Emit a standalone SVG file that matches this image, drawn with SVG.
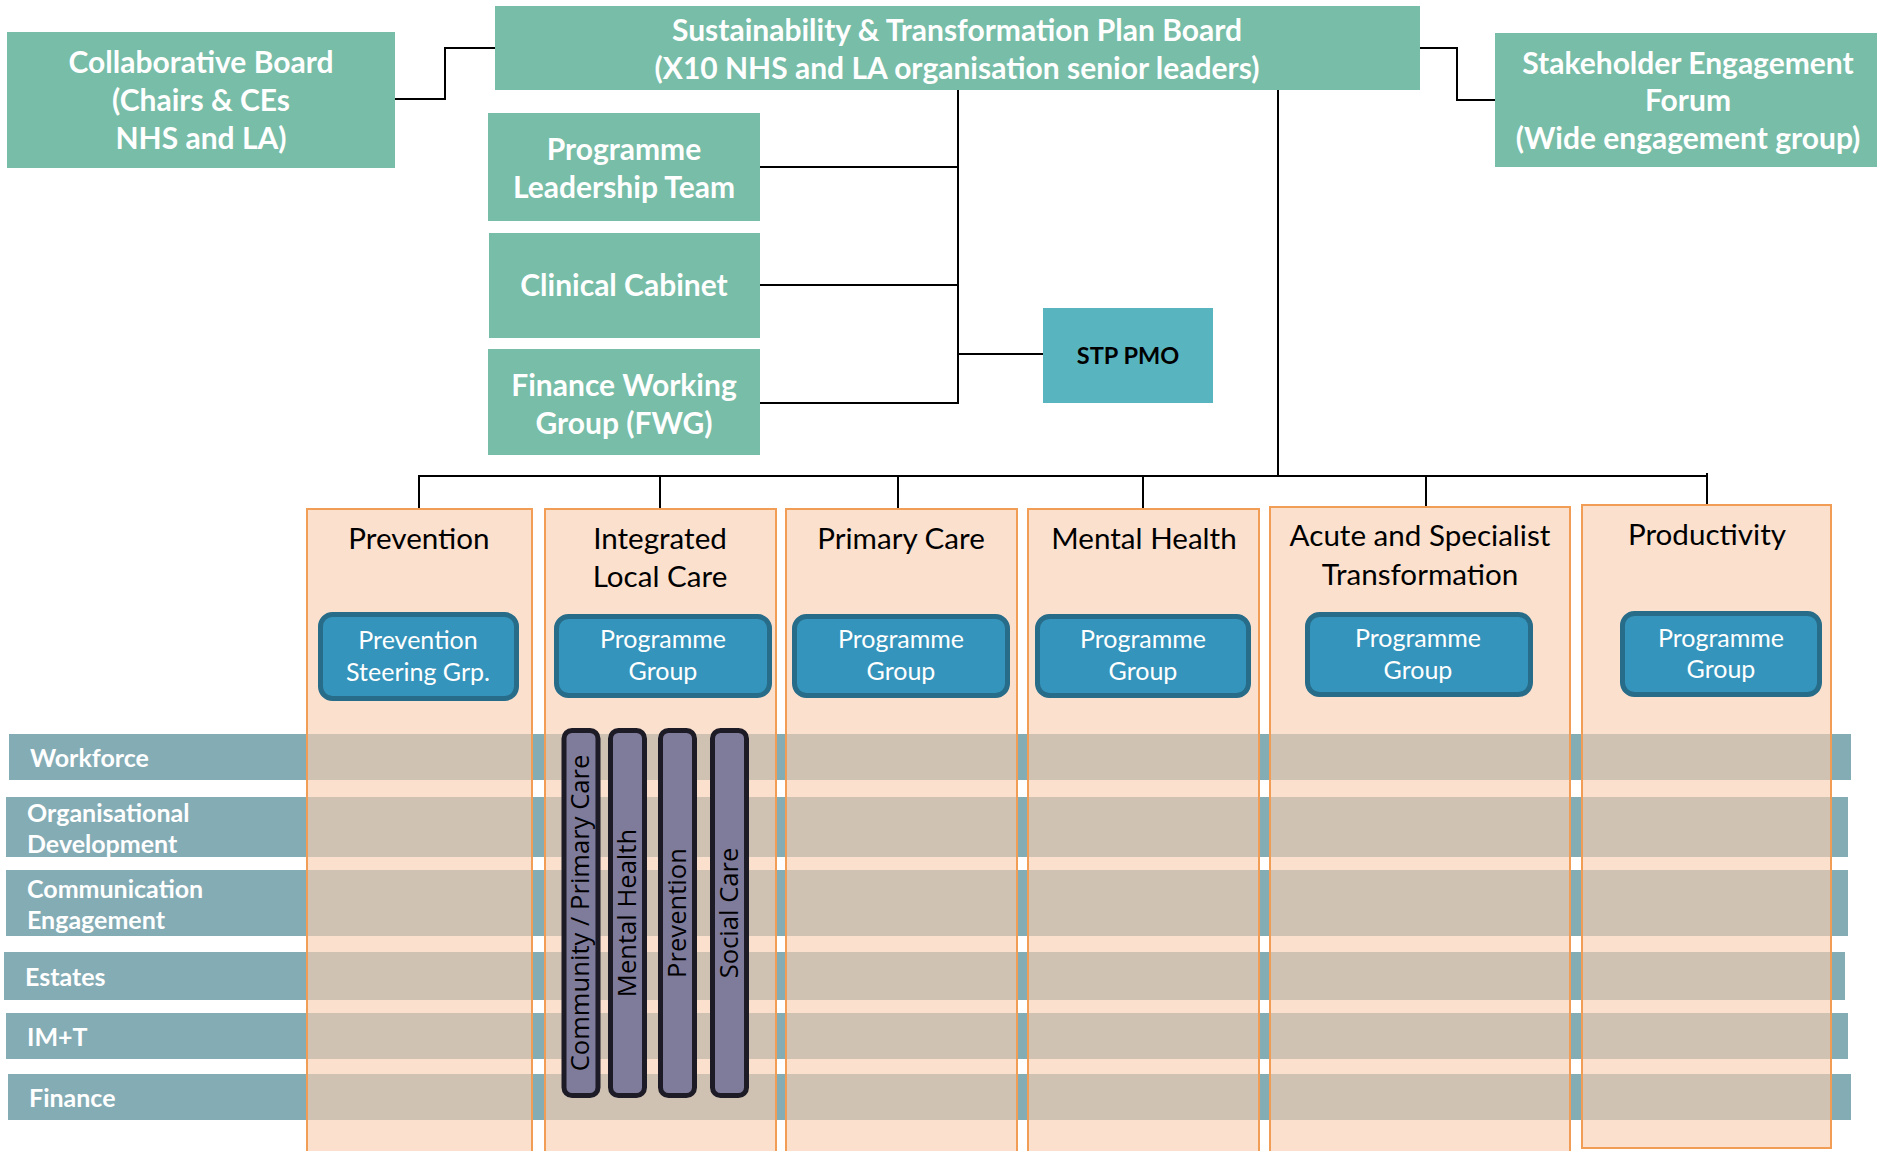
<svg xmlns="http://www.w3.org/2000/svg" width="1877" height="1151" viewBox="0 0 1877 1151">
<style>
.g{fill:#77BDA7}
.wt{font-family:Lato,"Liberation Sans",sans-serif;font-weight:bold;fill:#fff;text-anchor:middle;font-size:30px}
.band{fill:#84ACB5}
.bt{font-family:Lato,"Liberation Sans",sans-serif;font-weight:bold;fill:#fff;font-size:25px}
.col{fill:#FACFB3;fill-opacity:0.64;stroke:#F29D55;stroke-width:2}
.ct{font-family:Lato,"Liberation Sans",sans-serif;fill:#000;text-anchor:middle;font-size:29.6px}
.pg{fill:#3594BB;stroke:#276C89;stroke-width:5}
.pt{font-family:Lato,"Liberation Sans",sans-serif;fill:#fff;text-anchor:middle;font-size:25px}
.bar{fill:#7F7B9B;stroke:#1D1B26;stroke-width:5}
.vt{font-family:"Open Sans","Noto Sans",sans-serif;fill:#000;text-anchor:middle;font-size:25.6px}
.ln{fill:none;stroke:#000;stroke-width:2}
</style>
<g id="bands">
<g id="band-workforce"><rect class="band" x="9" y="734" width="1842" height="46"/><text class="bt" x="30" y="767">Workforce</text></g>
<g id="band-orgdev"><rect class="band" x="6" y="797" width="1842" height="60"/><text class="bt" x="27" y="822">Organisational</text><text class="bt" x="27" y="853">Development</text></g>
<g id="band-comm"><rect class="band" x="6" y="870" width="1842" height="66"/><text class="bt" x="27" y="898">Communication</text><text class="bt" x="27" y="929">Engagement</text></g>
<g id="band-estates"><rect class="band" x="4" y="952" width="1841" height="48"/><text class="bt" x="25" y="986">Estates</text></g>
<g id="band-imt"><rect class="band" x="6" y="1013" width="1842" height="46"/><text class="bt" x="27" y="1046">IM+T</text></g>
<g id="band-finance"><rect class="band" x="8" y="1074" width="1843" height="46"/><text class="bt" x="29" y="1107">Finance</text></g>
</g>
<g id="connectors">
<polyline class="ln" points="395,99 445,99 445,48 495,48"/>
<polyline class="ln" points="1420,48 1457,48 1457,100 1495,100"/>
<line class="ln" x1="958" y1="90" x2="958" y2="404"/>
<line class="ln" x1="760" y1="167" x2="958" y2="167"/>
<line class="ln" x1="760" y1="285" x2="958" y2="285"/>
<line class="ln" x1="760" y1="403" x2="958" y2="403"/>
<line class="ln" x1="958" y1="354" x2="1043" y2="354"/>
<line class="ln" x1="1278" y1="90" x2="1278" y2="476"/>
<line class="ln" x1="418" y1="476" x2="1708" y2="476"/>
<line class="ln" x1="419" y1="476" x2="419" y2="509"/>
<line class="ln" x1="660" y1="476" x2="660" y2="509"/>
<line class="ln" x1="898" y1="476" x2="898" y2="509"/>
<line class="ln" x1="1143" y1="476" x2="1143" y2="509"/>
<line class="ln" x1="1426" y1="476" x2="1426" y2="507"/>
<line class="ln" x1="1707" y1="473" x2="1707" y2="505"/>
</g>
<g id="collaborative-board"><rect class="g" x="7" y="32" width="388" height="136"/><text class="wt" x="201" y="73">Collaborative Board</text><text class="wt" x="201" y="111">(Chairs &amp; CEs</text><text class="wt" x="201" y="149">NHS and LA)</text></g>
<g id="stp-board"><rect class="g" x="495" y="6" width="925" height="84"/><text class="wt" x="957" y="41">Sustainability &amp; Transformation Plan Board</text><text class="wt" x="957" y="79">(X10 NHS and LA organisation senior leaders)</text></g>
<g id="stakeholder-forum"><rect class="g" x="1495" y="33" width="382" height="134"/><text class="wt" x="1688" y="74">Stakeholder Engagement</text><text class="wt" x="1688" y="111">Forum</text><text class="wt" x="1688" y="149">(Wide engagement group)</text></g>
<g id="programme-leadership"><rect class="g" x="488" y="113" width="272" height="108"/><text class="wt" x="624" y="160">Programme</text><text class="wt" x="624" y="198">Leadership Team</text></g>
<g id="clinical-cabinet"><rect class="g" x="489" y="233" width="271" height="105"/><text class="wt" x="624" y="296">Clinical Cabinet</text></g>
<g id="finance-working-group"><rect class="g" x="488" y="349" width="272" height="106"/><text class="wt" x="624" y="396">Finance Working</text><text class="wt" x="624" y="434">Group (FWG)</text></g>
<g id="stp-pmo"><rect x="1043" y="308" width="170" height="95" fill="#58B5C0"/><text x="1128" y="364" font-family="Lato,'Liberation Sans',sans-serif" font-weight="bold" font-size="23.5" text-anchor="middle" fill="#000">STP PMO</text></g>
<g id="col-prevention"><rect class="col" x="307" y="509" width="225" height="660"/><text class="ct" x="419" y="549">Prevention</text>
<rect class="pg" x="320.5" y="614.5" width="196" height="84" rx="12"/><text class="pt" x="418" y="649">Prevention</text><text class="pt" x="418" y="681">Steering Grp.</text></g>
<g id="col-integrated"><rect class="col" x="545" y="509" width="231" height="660"/><text class="ct" x="660" y="549">Integrated</text><text class="ct" x="660" y="587">Local Care</text>
<rect class="pg" x="556.5" y="616.5" width="213" height="79" rx="12"/><text class="pt" x="663" y="648">Programme</text><text class="pt" x="663" y="680">Group</text>
<g id="ilc-bars">
<rect class="bar" x="564" y="730.5" width="34" height="365" rx="8"/><text class="vt" transform="translate(589,913) rotate(-90)">Community / Primary Care</text>
<rect class="bar" x="610.5" y="730.5" width="34" height="365" rx="8"/><text class="vt" transform="translate(636,913) rotate(-90)">Mental Health</text>
<rect class="bar" x="660.5" y="730.5" width="34" height="365" rx="8"/><text class="vt" transform="translate(686,913) rotate(-90)">Prevention</text>
<rect class="bar" x="712.5" y="730.5" width="34" height="365" rx="8"/><text class="vt" transform="translate(738,913) rotate(-90)">Social Care</text>
</g></g>
<g id="col-primary"><rect class="col" x="786" y="509" width="231" height="660"/><text class="ct" x="901" y="549">Primary Care</text>
<rect class="pg" x="794.5" y="616.5" width="213" height="79" rx="12"/><text class="pt" x="901" y="648">Programme</text><text class="pt" x="901" y="680">Group</text></g>
<g id="col-mental"><rect class="col" x="1028" y="509" width="231" height="660"/><text class="ct" x="1144" y="549">Mental Health</text>
<rect class="pg" x="1037.5" y="616.5" width="211" height="79" rx="12"/><text class="pt" x="1143" y="648">Programme</text><text class="pt" x="1143" y="680">Group</text></g>
<g id="col-acute"><rect class="col" x="1270" y="507" width="300" height="660"/><text class="ct" x="1420" y="546">Acute and Specialist</text><text class="ct" x="1420" y="585">Transformation</text>
<rect class="pg" x="1307.5" y="614.5" width="223" height="80" rx="12"/><text class="pt" x="1418" y="647">Programme</text><text class="pt" x="1418" y="679">Group</text></g>
<g id="col-productivity"><rect class="col" x="1582" y="505" width="249" height="643"/><text class="ct" x="1707" y="545">Productivity</text>
<rect class="pg" x="1622.5" y="613.5" width="197" height="81" rx="12"/><text class="pt" x="1721" y="647">Programme</text><text class="pt" x="1721" y="678">Group</text></g>
</svg>
